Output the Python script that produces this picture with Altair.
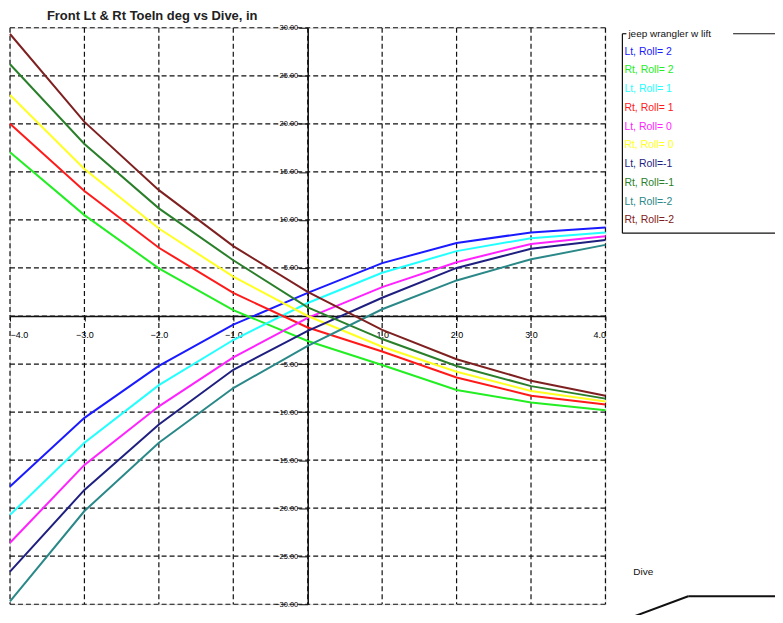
import altair as alt
import pandas as pd

dive = [-4, -3, -2, -1, 0, 1, 2, 3, 4]
series_names = ["Lt, Roll= 2", "Rt, Roll= 2", "Lt, Roll= 1", "Rt, Roll= 1", "Lt, Roll= 0",
                "Rt, Roll= 0", "Lt, Roll=-1", "Rt, Roll=-1", "Lt, Roll=-2", "Rt, Roll=-2"]
series_colors = ["#1a1aff", "#22ee22", "#22ffff", "#ff1a1a", "#ff22ff",
                 "#ffff22", "#1f1f80", "#2a7f2a", "#2a8888", "#7f2020"]
lt_p2 = [-17.75, -10.6, -5.2, -0.9, 2.4, 5.5, 7.6, 8.7, 9.2]
rt_p2 = [17.05, 10.5, 4.95, 0.6, -2.6, -5.1, -7.7, -9.0, -9.8]
lt_p1 = [-20.7, -13.2, -7.2, -2.5, 1.35, 4.5, 6.75, 8.1, 8.7]
rt_p1 = [20.0, 13.0, 7.1, 2.4, -1.2, -3.7, -6.4, -8.3, -9.2]
lt_0 = [-23.6, -15.5, -9.4, -4.3, -0.2, 3.0, 5.6, 7.5, 8.3]
rt_0 = [23.0, 15.3, 9.1, 4.1, 0.0, -3.2, -5.8, -7.8, -8.9]
lt_m1 = [-26.6, -18.1, -11.3, -5.6, -1.55, 1.9, 5.0, 7.0, 7.9]
rt_m1 = [26.2, 17.9, 11.2, 5.8, 0.9, -2.4, -5.2, -7.3, -8.6]
lt_m2 = [-29.7, -20.3, -13.2, -7.5, -3.1, 0.7, 3.7, 5.9, 7.4]
rt_m2 = [29.35, 20.2, 13.1, 7.27, 2.5, -1.45, -4.5, -6.75, -8.3]
all_series = [lt_p2, rt_p2, lt_p1, rt_p1, lt_0, rt_0, lt_m1, rt_m1, lt_m2, rt_m2]

x_ticks = [-4, -3, -2, -1, 0, 1, 2, 3, 4]
y_ticks = [-30, -25, -20, -15, -10, -5, 0, 5, 10, 15, 20, 25, 30]

title_text = "Front Lt & Rt ToeIn deg vs Dive, in"
legend_title = "jeep wrangler w lift"
corner_text = "Dive"

W, H = 597, 578

rows = []
for name, vals in zip(series_names, all_series):
    for xv, yv in zip(dive, vals):
        rows.append({"series": name, "dive": xv, "toe": yv})
df = pd.DataFrame(rows)

color_scale = alt.Scale(domain=series_names, range=series_colors)
xs = alt.Scale(domain=[-4, 4], nice=False, zero=False)
ys = alt.Scale(domain=[-30, 30], nice=False, zero=False)

x_axis = alt.Axis(values=x_ticks, orient="bottom", offset=-H / 2, grid=False,
                  labelExpr="datum.value == 0 ? '' : format(datum.value, '.1f')",
                  domainColor="#111", domainWidth=1.5, tickColor="#111",
                  tickSize=5, labelFontSize=9, labelFont="Liberation Sans",
                  labelColor="#000", labelPadding=10, title=None)
y_axis = alt.Axis(values=y_ticks, orient="left", offset=-W / 2, grid=False,
                  labelExpr="datum.value == 0 ? '' : format(datum.value, '.2f')",
                  domainColor="#111", domainWidth=1.5, tickColor="#111",
                  tickSize=9, labelFontSize=7.5, labelFont="Liberation Sans",
                  labelColor="#000", labelPadding=1, title=None)

vgrid = alt.Chart(pd.DataFrame({"v": x_ticks})).mark_rule(
    color="#111", strokeDash=[5, 3], strokeWidth=1.2
).encode(x=alt.X("v:Q", scale=xs, axis=x_axis))
hgrid = alt.Chart(pd.DataFrame({"v": y_ticks})).mark_rule(
    color="#111", strokeDash=[5, 3], strokeWidth=1.2
).encode(y=alt.Y("v:Q", scale=ys, axis=y_axis))

lines = alt.Chart(df).mark_line(strokeWidth=2).encode(
    x=alt.X("dive:Q", scale=xs, axis=x_axis),
    y=alt.Y("toe:Q", scale=ys, axis=y_axis),
    color=alt.Color("series:N", scale=color_scale, legend=None),
    detail="series:N",
)

title = alt.Chart(pd.DataFrame({"t": [title_text]})).mark_text(
    align="left", baseline="middle", fontSize=13, fontWeight="bold",
    font="Liberation Sans", color="#222"
).encode(x=alt.value(37), y=alt.value(-12), text="t:N")

leg_df = pd.DataFrame({"series": series_names, "idx": list(range(len(series_names)))})
legend_text = alt.Chart(leg_df).mark_text(
    align="left", baseline="middle", fontSize=10.5, font="Liberation Sans"
).transform_calculate(py="24 + datum.idx * 18.8").encode(
    x=alt.value(616),
    y=alt.Y("py:Q", scale=None, axis=None),
    text="series:N",
    color=alt.Color("series:N", scale=color_scale, legend=None),
)
legend_head = alt.Chart(pd.DataFrame({"t": [legend_title]})).mark_text(
    align="left", baseline="middle", fontSize=10, font="Liberation Sans", color="#111"
).encode(x=alt.value(620), y=alt.value(6), text="t:N")

def seg(x1, y1, x2, y2, w=1.2):
    return alt.Chart(pd.DataFrame({"a": [0]})).mark_rule(color="#111", strokeWidth=w).encode(
        x=alt.value(x1), y=alt.value(y1), x2=alt.value(x2), y2=alt.value(y2))

box = [seg(614, 6, 614, 206), seg(614, 206, 790, 206), seg(614, 6, 618, 6), seg(725, 6, 790, 6)]

corner = alt.Chart(pd.DataFrame({"t": [corner_text]})).mark_text(
    align="left", baseline="middle", fontSize=10, font="Liberation Sans", color="#111"
).encode(x=alt.value(625), y=alt.value(546), text="t:N")
poly = [seg(610, 596, 680, 570, 2), seg(680, 570, 790, 570, 2)]

chart = alt.layer(vgrid, hgrid, lines, title, legend_text, legend_head, *box, corner, *poly).properties(
    width=W, height=H,
    autosize=alt.AutoSizeParams(type="none"),
    padding={"left": 2, "top": 19, "right": 170, "bottom": 10},
).configure_view(stroke=None).configure(background="white")

chart.save("out.html", embed_options={"renderer": "svg", "actions": False})
